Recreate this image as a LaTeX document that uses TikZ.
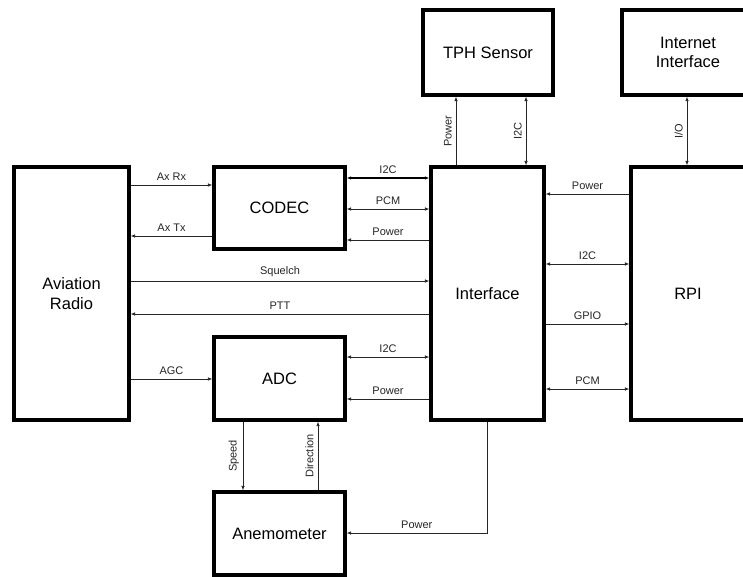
\documentclass[tikz,border=0pt]{standalone}
\usepackage{fontspec}
\setmainfont{Liberation Sans}
\usetikzlibrary{arrows.meta,calc}
\begin{document}
\begin{tikzpicture}[x=1pt,y=-1pt,
  box/.style={draw=black, line width=3.2pt, fill=white, inner sep=0pt, align=center,
    font=\fontsize{16.5}{19.5}\selectfont},
  arr/.style={line width=0.8pt, draw=black!85, -{Latex[length=4.5pt,width=3.5pt]}},
  darr/.style={line width=0.8pt, draw=black!85, {Latex[length=4.5pt,width=3.5pt]}-{Latex[length=4.5pt,width=3.5pt]}},
  lbl/.style={font=\fontsize{11}{13}\selectfont, inner sep=1pt, text=black!85},
  lab/.style={lbl, midway, above=3pt},
  vlab/.style={lbl, rotate=90, anchor=south, yshift=3pt}
]
\useasboundingbox (0,0) rectangle (743,577);
\clip (0,0) rectangle (743,577);
\fill[white] (0,0) rectangle (743,577);

\node[box, minimum width=115pt, minimum height=253pt] (radio) at (71.5,293.5) {Aviation\\Radio};
\node[box, minimum width=131pt, minimum height=82pt] (codec) at (279.5,208) {CODEC};
\node[box, minimum width=131pt, minimum height=83pt] (adc) at (279.5,378.5) {ADC};
\node[box, minimum width=131pt, minimum height=83pt] (anemo) at (279.5,533.5) {Anemometer};
\node[box, minimum width=113pt, minimum height=253pt] (iface) at (487.5,293.5) {Interface};
\node[box, minimum width=114pt, minimum height=253pt] (rpi) at (688,293.5) {RPI};
\node[box, minimum width=130pt, minimum height=85pt] (tph) at (488,52.5) {TPH Sensor};
\node[box, minimum width=132pt, minimum height=85pt] (inet) at (688,52.5) {Internet\\Interface};

% Radio <-> CODEC / ADC
\draw[arr] (radio.east |- 0,185) -- node[lab] {Ax Rx} (codec.west |- 0,185);
\draw[arr] (codec.west |- 0,236) -- node[lab] {Ax Tx} (radio.east |- 0,236);
\draw[arr] (radio.east |- 0,379) -- node[lab] {AGC} (adc.west |- 0,379);

% Radio <-> Interface
\draw[arr] (radio.east |- 0,281) -- node[lab] {Squelch} (iface.west |- 0,281);
\draw[arr] (iface.west |- 0,314) -- node[lab] {PTT} (radio.east |- 0,314);

% CODEC <-> Interface
\draw[darr, line width=1.6pt, draw=black] (codec.east |- 0,178) -- node[lab] {I2C} (iface.west |- 0,178);
\draw[darr] (codec.east |- 0,209) -- node[lab] {PCM} (iface.west |- 0,209);
\draw[arr] (iface.west |- 0,240) -- node[lab] {Power} (codec.east |- 0,240);

% ADC <-> Interface
\draw[darr] (adc.east |- 0,357) -- node[lab] {I2C} (iface.west |- 0,357);
\draw[arr] (iface.west |- 0,399) -- node[lab] {Power} (adc.east |- 0,399);

% Interface <-> RPI
\draw[arr] (rpi.west |- 0,194) -- node[lab] {Power} (iface.east |- 0,194);
\draw[darr] (iface.east |- 0,264) -- node[lab] {I2C} (rpi.west |- 0,264);
\draw[arr] (iface.east |- 0,324) -- node[lab] {GPIO} (rpi.west |- 0,324);
\draw[darr] (iface.east |- 0,389) -- node[lab] {PCM} (rpi.west |- 0,389);

% Interface <-> TPH
\draw[arr] (iface.north -| 456,0) -- node[vlab, midway] {Power} (tph.south -| 456,0);
\draw[darr] (iface.north -| 526,0) -- node[vlab, midway] {I2C} (tph.south -| 526,0);

% RPI <-> Internet
\draw[darr] (rpi.north -| 687,0) -- node[vlab, midway] {I/O} (inet.south -| 687,0);

% ADC <-> Anemometer
\coordinate (spdtop) at (adc.south -| 243,0);
\coordinate (spdbot) at (anemo.north -| 243,0);
\draw[arr] (spdtop) -- (spdbot);
\node[vlab] at ($(spdtop)!0.5!(spdbot)$) {Speed};
\draw[arr] (anemo.north -| 318,0) -- node[vlab, midway] {Direction} (adc.south -| 318,0);

% Interface -> Anemometer power
\coordinate (pwrcorner) at (487,533);
\draw[arr] (iface.south -| 487,0) -- (pwrcorner) -- node[lab] {Power} (anemo.east |- 0,533);
\end{tikzpicture}
\end{document}
